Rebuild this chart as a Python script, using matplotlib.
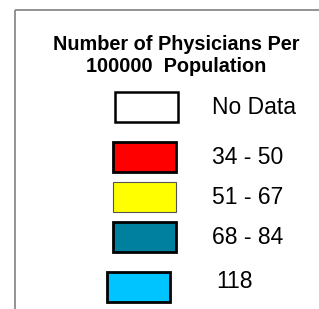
import matplotlib
matplotlib.use("Agg")
import matplotlib.pyplot as plt
from matplotlib.patches import Rectangle

# legend content
title_lines = ["Number of Physicians Per", "100000  Population"]
labels = ["No Data", "34 - 50", "51 - 67", "68 - 84", "118"]
colors = ["#FFFFFF", "#FF0000", "#FFFF00", "#00809F", "#00C4FF"]
edge_widths = [1.8, 2.0, 0.8, 2.0, 2.0]

# layout (pixels, top-left origin)
title_y = [45, 67]
row_top = [92, 142, 182, 222, 272]
box_left = [115, 113, 113, 113, 107]
box_w, box_h = 63, 30
text_x = [212, 212, 212, 212, 216]
text_y = [108, 158, 198, 238, 281]

W, H = 319, 309
fig = plt.figure(figsize=(W / 100, H / 100), dpi=100)
ax = fig.add_axes([0, 0, 1, 1])
ax.set_xlim(0, W)
ax.set_ylim(H, 0)
ax.axis("off")

# frame: top and left edges only
ax.plot([15, W], [10, 10], color="#808080", lw=1.2, solid_capstyle="butt")
ax.plot([15, 15], [10, H], color="#808080", lw=1.2, solid_capstyle="butt")

for line, y in zip(title_lines, title_y):
    ax.text(176, y, line, ha="center", va="center", fontsize=14.3,
            fontweight="bold", family="Liberation Sans")

for lab, c, ew, y, x, tx, ty in zip(labels, colors, edge_widths, row_top,
                                    box_left, text_x, text_y):
    ax.add_patch(Rectangle((x, y), box_w, box_h, facecolor=c,
                           edgecolor="black" if ew > 1 else "#555555",
                           lw=ew))
    ax.text(tx, ty, lab, ha="left", va="center",
            fontsize=16.5, family="Liberation Sans")

fig.savefig("out.png", dpi=100)
